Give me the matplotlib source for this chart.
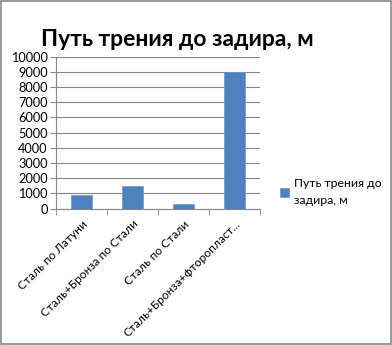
import matplotlib
matplotlib.use("Agg")
import matplotlib.pyplot as plt
from matplotlib.patches import Rectangle
import numpy as np

# ── Data ──────────────────────────────────────────────────────
categories = ['Сталь по Латуни', 'Сталь+Бронза по Стали',
              'Сталь по Стали', 'Сталь+Бронза+фторопласт...']
values = [900, 1500, 300, 9000]
series_name = 'Путь трения до\nзадира, м'
title = 'Путь трения до задира, м'
y_ticks = list(range(0, 10001, 1000))

plt.rcParams['font.family'] = ['Lato', 'DejaVu Sans']

fig = plt.figure(figsize=(3.92, 3.45), dpi=100, facecolor='white')
ax = fig.add_axes([56 / 392, 1 - 208.7 / 345, (260 - 56) / 392, (208.7 - 56.5) / 345])

x = np.arange(len(categories))
ax.bar(x, values, 0.4, color='#4F81BD', edgecolor='#6E96C8', lw=0.5,
       label=series_name, zorder=3)

ax.set_xlim(-0.5, len(categories) - 0.5)
ax.set_ylim(0, 10000)
ax.set_yticks(y_ticks)
ax.set_yticklabels([str(v) for v in y_ticks], fontsize=9.2)
ax.grid(True, axis='y', color='#868686', lw=0.8, zorder=0)

ax.set_xticks(x)
ax.set_xticklabels(categories, rotation=45, ha='right',
                   rotation_mode='anchor', fontsize=8.6)
ax.set_xticks(np.arange(-0.5, len(categories), 1.0), minor=True)
ax.tick_params(axis='x', which='major', length=0, pad=7)
ax.tick_params(axis='x', which='minor', length=4, color='#868686')
ax.tick_params(axis='y', length=4, color='#868686', pad=2)

for side in ['top', 'right']:
    ax.spines[side].set_visible(False)
for side in ['left', 'bottom']:
    ax.spines[side].set_color('#868686')

fig.text(177 / 392, 1 - 39 / 345, title, ha='center', va='center',
         fontsize=16.5, fontweight='bold')

leg = ax.legend(loc='center left', bbox_to_anchor=(280 / 392, 1 - 192 / 345),
                bbox_transform=fig.transFigure, frameon=False, fontsize=8.8,
                handlelength=0.7, handleheight=0.7, handletextpad=0.45,
                borderpad=0, borderaxespad=0)
for t in leg.get_texts():
    t.set_linespacing(1.6)

fig.patches.append(Rectangle((0.003, 0.003), 0.994, 0.994,
                             transform=fig.transFigure, fill=False,
                             edgecolor='#868686', lw=1.2))

fig.savefig('out.png', dpi=100, facecolor='white')
